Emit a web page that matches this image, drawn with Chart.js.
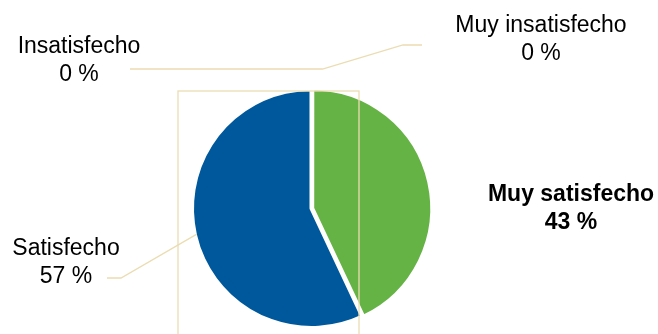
<!DOCTYPE html>
<html>
<head>
<meta charset="utf-8">
<script src="https://cdn.jsdelivr.net/npm/chart.js@4"></script>
<style>
  html, body { margin: 0; padding: 0; background: #fff; }
  #wrap { width: 658px; height: 334px; }
</style>
</head>
<body>
<div id="wrap"><canvas id="pie-chart" width="658" height="334"></canvas></div>
<script>
  // Chart data
  const categories = ['Muy satisfecho', 'Satisfecho', 'Insatisfecho', 'Muy insatisfecho'];
  const percents = [43, 57, 0, 0];
  const sliceColors = ['#66B345', '#00589C', '#A5A5A5', '#FFC000'];

  // label placement (center x, first baseline y), bold flag
  const labelSpots = [
    { x: 571, y: 201, bold: true },
    { x: 66, y: 255, bold: false },
    { x: 79, y: 53, bold: false },
    { x: 541, y: 32, bold: false }
  ];

  const lineColor = '#EBDCB2';
  const ctx = document.getElementById('pie-chart').getContext('2d');

  //Labels, leader lines and plot box
  const labelPlugin = {
    id: 'labelPlugin',
    afterDatasetsDraw(chart) {
      const c = chart.ctx;
      const arcs = chart.getDatasetMeta(0).data;
      const cx = arcs[1].x;
      const cy = arcs[1].y;
      const r = arcs[1].outerRadius - 2; // visible edge (border eats a bit)

      c.save();
      c.strokeStyle = lineColor;
      c.lineWidth = 1.3;

      // plot area box
      c.strokeRect(cx - 133.5, cy - r, 181, 260);

      // satisfecho leader line goes to the middle of its slice
      const blue = arcs[1];
      const mid = (blue.startAngle + blue.endAngle) / 2;
      c.beginPath();
      c.moveTo(107, 278);
      c.lineTo(121, 278);
      c.lineTo(cx + Math.cos(mid) * r, cy + Math.sin(mid) * r);
      c.stroke();

      // the two empty slices share a point above the pie
      const jx = cx + 11;
      const jy = cy - r - 22;
      c.beginPath();
      c.moveTo(130, 69);
      c.lineTo(jx, jy);
      c.lineTo(403, 45);
      c.lineTo(422, 45);
      c.stroke();

      // text
      c.fillStyle = '#000';
      c.textAlign = 'center';
      c.textBaseline = 'alphabetic';
      categories.forEach((name, i) => {
        const spot = labelSpots[i];
        c.font = (spot.bold ? 'bold ' : '') + '23px "Liberation Sans", Arial, sans-serif';
        c.fillText(name, spot.x, spot.y);
        c.fillText(percents[i] + ' %', spot.x, spot.y + 28);
      });
      c.restore();
    }
  };

  let chart = new Chart(ctx, {
    type: 'pie',
    data: {
      labels: categories,
      datasets: [{
        data: percents,
        backgroundColor: sliceColors,
        borderColor: '#ffffff',
        borderWidth: [4, 4, 0, 0],
        offset: [3, 0, 0, 0]
      }]
    },
    options: {
      responsive: false,
      animation: false,
      events: [],
      layout: {
        padding: { top: 85.5, bottom: 2.5, left: 188.5, right: 223.5 }
      },
      plugins: {
        legend: { display: false },
        tooltip: { enabled: false }
      }
    },
    plugins: [labelPlugin]
  });
</script>
</body>
</html>
